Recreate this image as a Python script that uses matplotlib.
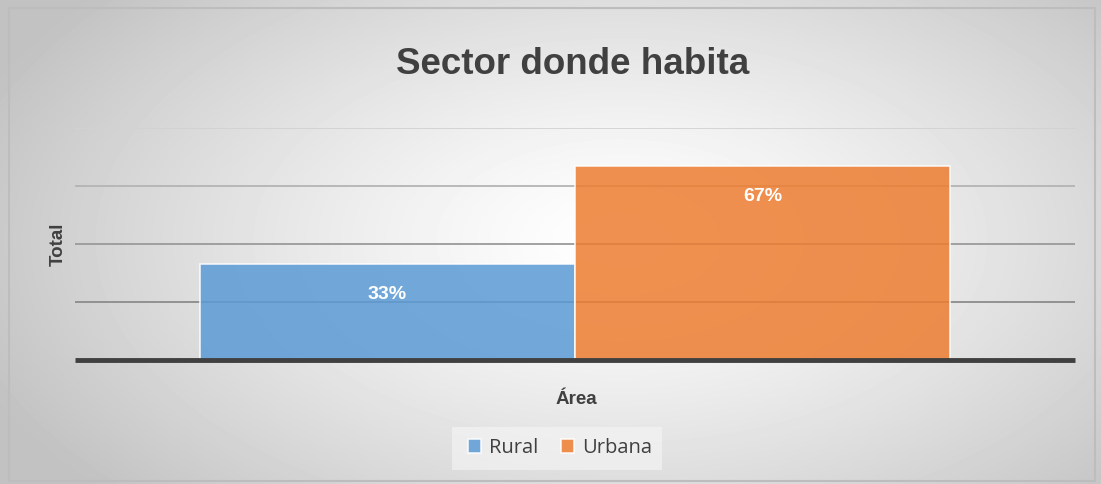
import matplotlib.pyplot as plt
import numpy as np
from matplotlib.patches import Rectangle

series = ["Rural", "Urbana"]
values = [0.33, 0.67]
colors = ["#5b9bd5", "#ed7d31"]
grid_levels = [0.2, 0.4, 0.6, 0.8]
grid_colors = ["#8c8c8c", "#9a9a9a", "#b4b4b4", "#d2d2d2"]

fig = plt.figure(figsize=(11.01, 4.84), dpi=100)

# radial gradient background
bg = fig.add_axes([0, 0, 1, 1])
bg.set_axis_off()
yy, xx = np.mgrid[0:484, 0:1101]
r = np.sqrt(((xx - 620) / 600.0) ** 2 + ((yy - 240) / 330.0) ** 2)
shade = np.clip(1.0 - 0.2 * r ** 1.3, 0.76, 1.0)
bg.imshow(shade, cmap="gray", vmin=0, vmax=1, aspect="auto", extent=[0, 1101, 484, 0])
bg.set_xlim(0, 1101)
bg.set_ylim(484, 0)
bg.add_patch(Rectangle((9, 8), 1086, 473, fill=False, edgecolor="#bdbdbd", lw=1.5))
# legend background box
bg.add_patch(Rectangle((452, 427), 210, 43, facecolor="#f6f6f6", edgecolor="none", alpha=0.6))

ax = fig.add_axes([75 / 1101, 1 - 360 / 484, 1000 / 1101, 232 / 484])
ax.patch.set_alpha(0)
ax.set_xlim(-0.5, 0.5)
ax.set_ylim(0, 0.8)

for lvl, c in zip(grid_levels, grid_colors):
    ax.axhline(lvl, color=c, lw=1.3, zorder=1)

xpos = [-0.1875, 0.1875]
bars = ax.bar(xpos, values, width=0.375, color=colors, alpha=0.85,
              edgecolor="white", linewidth=1.2, zorder=2)
for b, v in zip(bars, values):
    ax.text(b.get_x() + b.get_width() / 2, v - 0.105, f"{v:.0%}", ha="center", va="center",
            color="white", fontsize=14, fontweight="bold", family="Liberation Sans", zorder=3)

ax.axhline(0, color="#404040", lw=3.5, zorder=4, solid_capstyle="butt", clip_on=False)
for s in ax.spines.values():
    s.set_visible(False)
ax.set_xticks([])
ax.set_yticks([])

fig.text(573 / 1101, 1 - 65 / 484, "Sector donde habita", ha="center", va="center",
         fontsize=26.5, fontweight="bold", color="#404040", family="Liberation Sans")
fig.text(576 / 1101, 1 - 400 / 484, "Área", ha="center", va="center",
         fontsize=13.5, fontweight="bold", color="#404040", family="Liberation Sans")
fig.text(58 / 1101, 1 - 244 / 484, "Total", ha="center", va="center", rotation=90,
         fontsize=13.5, fontweight="bold", color="#404040", family="Liberation Sans")

leg = ax.legend(bars, series, loc="center", bbox_to_anchor=(560 / 1101, 1 - 448 / 484),
                bbox_transform=fig.transFigure, ncol=2, frameon=False,
                prop={"family": "Open Sans", "size": 14.5}, handlelength=0.65, handleheight=0.65,
                handletextpad=0.4, columnspacing=1.1)
for t in leg.get_texts():
    t.set_color("#404040")

fig.savefig("out.png", dpi=100)
